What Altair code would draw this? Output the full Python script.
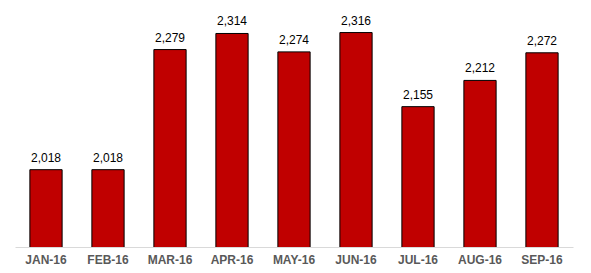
import altair as alt
import pandas as pd

months = ["JAN-16", "FEB-16", "MAR-16", "APR-16", "MAY-16", "JUN-16", "JUL-16", "AUG-16", "SEP-16"]
values = [2018, 2018, 2279, 2314, 2274, 2316, 2155, 2212, 2272]

df = pd.DataFrame({"month": months, "value": values})

x = alt.X("month:N", sort=months, title=None,
          scale=alt.Scale(paddingInner=0.48, paddingOuter=0.24),
          axis=alt.Axis(labelAngle=0, ticks=False, domainColor="#d9d9d9", domainWidth=1,
                        labelFont="Liberation Sans", labelFontSize=12, labelFontWeight="bold",
                        labelColor="#595959", labelPadding=7))
y = alt.Y("value:Q", title=None, scale=alt.Scale(domain=[1850, 2365], zero=False, nice=False),
          axis=None)

bars = alt.Chart(df).mark_bar(color="#C00000", stroke="black", strokeWidth=1, clip=True).encode(x=x, y=y)
text = alt.Chart(df).mark_text(baseline="bottom", dy=-5, font="Liberation Sans", fontSize=12,
                               color="black").encode(x=x, y=y, text=alt.Text("value:Q", format=","))

chart = (bars + text).properties(
    width=558, height=237,
    autosize=alt.AutoSizeParams(type="none"),
    padding={"left": 15, "top": 10, "right": 18, "bottom": 26},
    background="white",
).configure_view(stroke=None, strokeWidth=0)

chart.save("out.html", embed_options={"renderer": "svg", "actions": False})
